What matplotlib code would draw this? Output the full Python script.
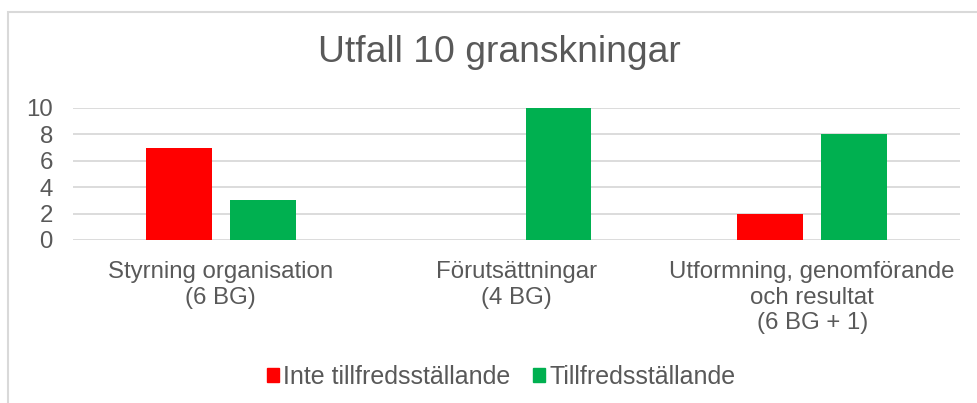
import matplotlib
matplotlib.use("Agg")
import matplotlib.pyplot as plt
import numpy as np
from matplotlib.patches import Rectangle

categories = ["Styrning organisation\n(6 BG)", "Förutsättningar\n(4 BG)",
              "Utformning, genomförande\noch resultat\n(6 BG + 1)"]
inte = [7, 0, 2]
till = [3, 10, 8]
series_names = ["Inte tillfredsställande", "Tillfredsställande"]
title = "Utfall 10 granskningar"
yticks = [0, 2, 4, 6, 8, 10]

plt.rcParams['font.family'] = ['Liberation Sans', 'DejaVu Sans']
txt = '#595959'
fs = 17.3

fig = plt.figure(figsize=(9.77, 4.03), dpi=100)
W, H = 977, 403
ax = fig.add_axes([73 / W, 1 - 240 / H, (960 - 73) / W, (240 - 108) / H])

x = np.arange(len(categories))
bw = 0.223
off = 0.142
red = '#ff0000'
green = '#00b050'
ax.bar(x - off, inte, bw, color=red, zorder=3)
ax.bar(x + off, till, bw, color=green, zorder=3)

ax.set_xlim(-0.5, 2.5)
ax.set_ylim(0, 10)
ax.set_yticks(yticks)
ax.set_yticklabels([str(v) for v in yticks], fontsize=fs, color=txt)
ax.yaxis.grid(True, color='#d9d9d9', linewidth=1.3, zorder=0)
ax.set_axisbelow(True)
ax.tick_params(axis='y', length=0, pad=14.5)
ax.tick_params(axis='x', length=0, pad=15)
ax.set_xticks(x)
ax.set_xticklabels(categories, fontsize=fs, color=txt, linespacing=1.22)
for s in ax.spines.values():
    s.set_visible(False)

fig.text(499 / W, 1 - 53 / H, title, fontsize=26.8, color=txt, ha='center', va='center')

# chart border
fig.patches.append(Rectangle((8 / W, -0.1), 1.1, (1 - 12 / H) + 0.1, transform=fig.transFigure,
                             fill=False, edgecolor='#d9d9d9', linewidth=1.5))

handles = [Rectangle((0, 0), 1, 1, color=red), Rectangle((0, 0), 1, 1, color=green)]
fig.legend(handles, series_names, loc='center', bbox_to_anchor=(501 / W, 1 - 377 / H),
           ncol=2, frameon=False, fontsize=18, labelcolor=txt, handlelength=0.5,
           handleheight=0.5, handletextpad=0.15, columnspacing=0.9)

fig.savefig("out.png", dpi=100)
